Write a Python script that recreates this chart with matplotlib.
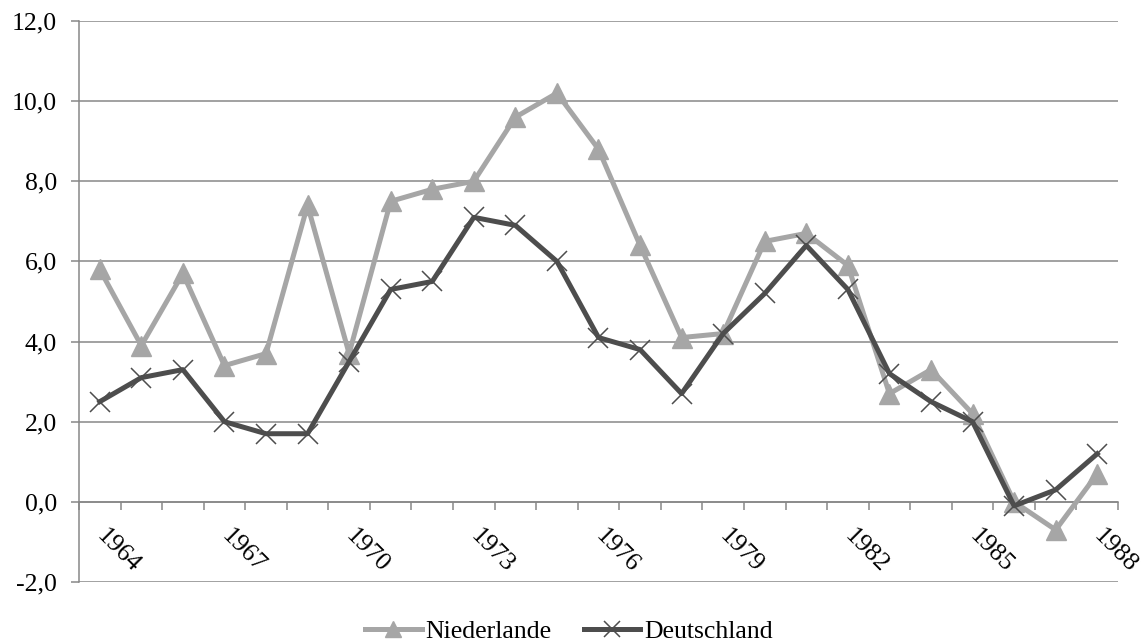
import matplotlib.pyplot as plt
import numpy as np
from matplotlib.ticker import FixedLocator, FuncFormatter

# ---- Data ----
years = list(range(1964, 1989))
niederlande = [5.8, 3.9, 5.7, 3.4, 3.7, 7.4, 3.7, 7.5, 7.8, 8.0,
               9.6, 10.2, 8.8, 6.4, 4.1, 4.2, 6.5, 6.7, 5.9, 2.7,
               3.3, 2.2, 0.0, -0.7, 0.7]
deutschland = [2.5, 3.1, 3.3, 2.0, 1.7, 1.7, 3.5, 5.3, 5.5, 7.1,
               6.9, 6.0, 4.1, 3.8, 2.7, 4.2, 5.2, 6.4, 5.3, 3.2,
               2.5, 2.0, -0.1, 0.3, 1.2]
year_labels = [str(y) for y in years[::3]]

# ---- Style ----
plt.rcParams["font.family"] = ["Liberation Serif", "DejaVu Serif"]
plt.rcParams["font.size"] = 18.5

GRID = "#878787"
LIGHT = "#a6a6a6"
DARK = "#4d4d4d"

fig = plt.figure(figsize=(11.46, 6.44), dpi=100)
ax = fig.add_axes([0.0689, 0.0963, 0.9067, 0.8711])

x = np.arange(len(years))
ax.plot(x, niederlande, color=LIGHT, linewidth=3.6, marker="^",
        markersize=15, markeredgecolor=LIGHT, markerfacecolor=LIGHT,
        label="Niederlande", zorder=3)
ax.plot(x, deutschland, color=DARK, linewidth=3.6, marker="x",
        markersize=14.5, markeredgewidth=1.1, markeredgecolor=DARK,
        label="Deutschland", zorder=4)

ax.set_xlim(-0.5, len(years) - 0.5)
ax.set_ylim(-2, 12)

# y axis: gridlines every 2 with comma decimals
ax.set_yticks(np.arange(-2, 13, 2))
ax.yaxis.set_major_formatter(FuncFormatter(lambda v, p: f"{v:.1f}".replace(".", ",")))
ax.yaxis.grid(True, color=GRID, linewidth=1.1)
ax.set_axisbelow(True)
ax.tick_params(axis="y", direction="out", length=5.8, width=1.1,
               color=GRID, pad=10)

# x axis sits on zero, ticks between categories, every third year labelled
for side in ["top", "right"]:
    ax.spines[side].set_visible(False)
ax.spines["bottom"].set_position(("data", 0))
for side in ["bottom", "left"]:
    ax.spines[side].set_color(GRID)
    ax.spines[side].set_linewidth(1.1)
ax.set_xticks(x[::3])
ax.set_xticklabels(year_labels)
ax.xaxis.set_minor_locator(FixedLocator(np.arange(-0.5, len(years), 1.0)))
ax.tick_params(axis="x", which="major", length=0, pad=22)
ax.tick_params(axis="x", which="minor", direction="out", length=5.8,
               width=1.1, color=GRID)
plt.setp(ax.get_xticklabels(), rotation=-45, ha="left", va="center",
         rotation_mode="anchor")

leg = fig.legend(loc="center", bbox_to_anchor=(0.4965, 0.02), ncol=2,
                 frameon=False, handlelength=2.2, handletextpad=0.15,
                 columnspacing=1.25, borderaxespad=0, markerscale=0.8)

fig.savefig("out.png", dpi=100, facecolor="white")
